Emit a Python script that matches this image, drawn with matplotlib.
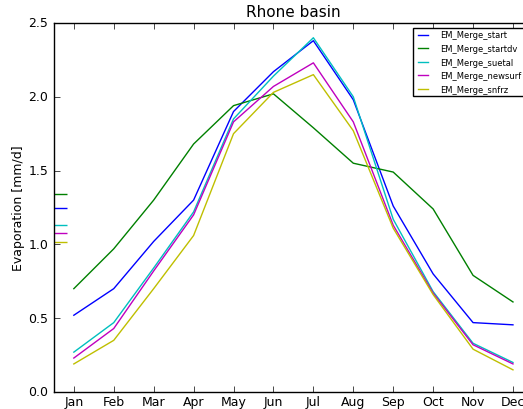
import numpy as np
import matplotlib
matplotlib.use('Agg')
import matplotlib.pyplot as plt

months = ['Jan', 'Feb', 'Mar', 'Apr', 'May', 'Jun', 'Jul', 'Aug', 'Sep', 'Oct', 'Nov', 'Dec']
em_start = [0.52, 0.70, 1.02, 1.30, 1.90, 2.17, 2.38, 1.98, 1.26, 0.80, 0.47, 0.455]
em_startdv = [0.70, 0.97, 1.30, 1.68, 1.94, 2.02, 1.79, 1.55, 1.49, 1.24, 0.79, 0.61]
em_suetal = [0.27, 0.47, 0.84, 1.22, 1.85, 2.14, 2.40, 2.00, 1.17, 0.68, 0.33, 0.20]
em_newsurf = [0.23, 0.43, 0.82, 1.20, 1.83, 2.07, 2.23, 1.83, 1.13, 0.67, 0.32, 0.19]
em_snfrz = [0.19, 0.35, 0.70, 1.06, 1.75, 2.03, 2.15, 1.77, 1.11, 0.66, 0.29, 0.15]

runs = [('EM_Merge_start', em_start, 'b'),
        ('EM_Merge_startdv', em_startdv, 'g'),
        ('EM_Merge_suetal', em_suetal, 'c'),
        ('EM_Merge_newsurf', em_newsurf, 'm'),
        ('EM_Merge_snfrz', em_snfrz, 'y')]


def main():
    plt.style.use('classic')
    fig = plt.figure(figsize=(5.23, 4.10), dpi=100, facecolor='white')
    ax = fig.add_axes([0.103, 0.0415, 0.916, 0.9])
    x = np.arange(1, 13)
    for name, vals, col in runs:
        ax.plot(x, vals, color=col, lw=1.0, label=name)
    # annual means as short marks at the left edge
    for name, vals, col in runs:
        ax.hlines(np.mean(vals), 0.5, 0.82, colors=col, lw=1.0)
    ax.set_xlim(0.5, 12.5)
    ax.set_ylim(0, 2.5)
    ax.set_xticks(x)
    ax.set_xticklabels(months)
    ax.set_yticks([0.0, 0.5, 1.0, 1.5, 2.0, 2.5])
    ax.tick_params(labelsize=9, pad=4)
    ax.tick_params(axis='x', pad=2.5)
    ax.set_ylabel('Evaporation [mm/d]', fontsize=9)
    ax.yaxis.set_label_coords(-0.06, 0.5)
    ax.set_title('Rhone basin', fontsize=11)
    ax.legend(loc='upper left', bbox_to_anchor=(413 / 523, 1 - 29 / 410),
              bbox_transform=fig.transFigure, fontsize=6, borderaxespad=0,
              handlelength=1.8, handletextpad=1.2, labelspacing=0.55,
              borderpad=0.3)
    fig.savefig('out.png', dpi=100, facecolor='white')


if __name__ == '__main__':
    main()
